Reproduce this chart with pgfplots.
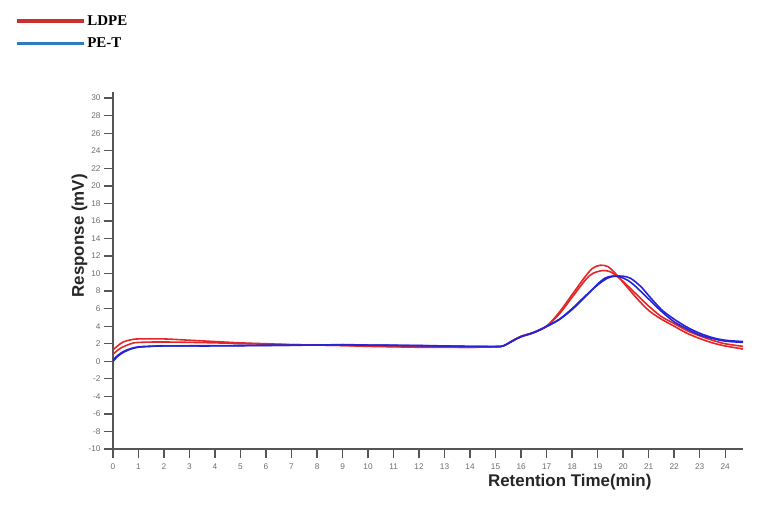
\documentclass[border=0pt]{standalone}
\usepackage{fontspec}
\setmainfont{Liberation Sans}
\newfontfamily\legendfont{Liberation Serif}
\usepackage{pgfplots}
\pgfplotsset{compat=1.18}
\definecolor{cred}{RGB}{228,38,40}
\definecolor{cblue}{RGB}{38,36,214}
\definecolor{lgred}{RGB}{205,45,45}
\definecolor{lgblue}{RGB}{45,125,190}
\definecolor{axgray}{RGB}{85,85,85}
\definecolor{tkgray}{RGB}{110,110,110}
\begin{document}
\begin{tikzpicture}
\path[use as bounding box] (-113bp,-60bp) rectangle (645bp,449bp);
\begin{axis}[
  at={(0,0)}, anchor=south west,
  scale only axis, width=630bp, height=357bp,
  xmin=0, xmax=24.7, ymin=-10, ymax=30.7,
  axis lines*=left,
  axis line style={axgray, line width=1.4bp},
  xtick={0,1,...,24}, ytick={-10,-8,...,30},
  tick align=outside, major tick length=9bp,
  tick style={axgray, line width=1.3bp},
  /pgf/number format/assume math mode=true,
  tick label style={tkgray, font=\fontsize{8.3}{10}\selectfont},
  xticklabel style={yshift=-2bp},
  xlabel={\bfseries Retention Time(min)},
  ylabel={\bfseries Response (mV)},
  label style={font=\fontsize{17}{20}\selectfont, black!85},
  xlabel style={at={(rel axis cs:0.725,0)}, anchor=north, yshift=-22bp},
  ylabel style={at={(rel axis cs:0,0.597)}, anchor=south, yshift=22bp},
  legend style={at={(-0.1556,1.221)}, anchor=north west, draw=none, fill=none,
    inner sep=0pt, row sep=7bp,
    font=\legendfont\bfseries\fontsize{15}{17}\selectfont},
  legend cell align=left,
  legend image code/.code={\draw[#1, line width=3.2bp] (0bp,0bp) -- (67bp,0bp);},
]
\addlegendimage{lgred}
\addlegendentry{LDPE}
\addlegendimage{lgblue}
\addlegendentry{PE-T}

% LDPE replicate 1
\addplot[cred, line width=1.6bp, smooth, forget plot] coordinates {
(0,1.3) (0.2,1.8) (0.4,2.2) (0.7,2.45) (1,2.55) (2,2.55) (3,2.4) (4,2.25) (5,2.1)
(6,2.0) (7,1.9) (8,1.85) (9,1.8) (10,1.7) (11,1.65) (12,1.6) (13,1.6) (14,1.6)
(15,1.65) (15.3,1.75) (15.7,2.4) (16,2.85) (16.5,3.3) (17,4.0) (17.5,5.6) (18,7.6)
(18.5,9.6) (18.8,10.6) (19.1,10.95) (19.4,10.8) (19.7,10.0) (20,9.0) (20.5,7.3)
(21,5.8) (21.5,4.8) (22,4.0) (22.5,3.2) (23,2.6) (23.5,2.1) (24,1.75) (24.7,1.4)
};
% LDPE replicate 2
\addplot[cred, line width=1.6bp, smooth, forget plot] coordinates {
(0,0.8) (0.3,1.5) (0.7,2.0) (1,2.15) (2,2.2) (4,2.1) (6,1.95) (8,1.85) (10,1.75)
(12,1.65) (14,1.6) (15,1.65) (15.3,1.75) (15.7,2.4) (16,2.85) (16.5,3.3) (17,4.0)
(17.5,5.4) (18,7.3) (18.5,9.2) (18.8,10.0) (19.2,10.35) (19.5,10.2) (19.8,9.6)
(20,9.1) (20.5,7.7) (21,6.3) (21.5,5.1) (22,4.3) (22.5,3.5) (23,2.9) (23.5,2.4)
(24,2.0) (24.7,1.7)
};
% PE-T replicate 1
\addplot[cblue, line width=1.6bp, smooth, forget plot] coordinates {
(0,0.0) (0.2,0.6) (0.4,1.0) (0.7,1.4) (1,1.6) (1.5,1.7) (2,1.75) (4,1.75) (6,1.8)
(8,1.85) (9,1.9) (10,1.85) (12,1.8) (14,1.7) (15,1.7) (15.3,1.75) (15.7,2.4)
(16,2.8) (16.5,3.3) (17,4.0) (17.5,4.8) (18,6.0) (18.5,7.4) (19,8.7) (19.4,9.5)
(19.7,9.7) (20,9.7) (20.3,9.45) (20.7,8.5) (21,7.5) (21.5,5.9) (22,4.8) (22.5,3.9)
(23,3.2) (23.5,2.7) (24,2.4) (24.7,2.25)
};
% PE-T replicate 2
\addplot[cblue, line width=1.6bp, smooth, forget plot] coordinates {
(0,0.15) (0.2,0.7) (0.4,1.1) (0.7,1.45) (1,1.65) (1.5,1.72) (2,1.75) (4,1.78) (6,1.82)
(8,1.85) (9,1.88) (10,1.85) (12,1.78) (14,1.7) (15,1.68) (15.3,1.75) (15.7,2.35)
(16,2.8) (16.5,3.25) (17,3.95) (17.5,4.75) (18,5.9) (18.5,7.3) (19,8.8) (19.3,9.5)
(19.6,9.72) (19.9,9.6) (20.2,9.2) (20.5,8.5) (21,7.1) (21.5,5.7) (22,4.5) (22.5,3.7)
(23,3.0) (23.5,2.6) (24,2.3) (24.7,2.15)
};
\end{axis}
\end{tikzpicture}
\end{document}
